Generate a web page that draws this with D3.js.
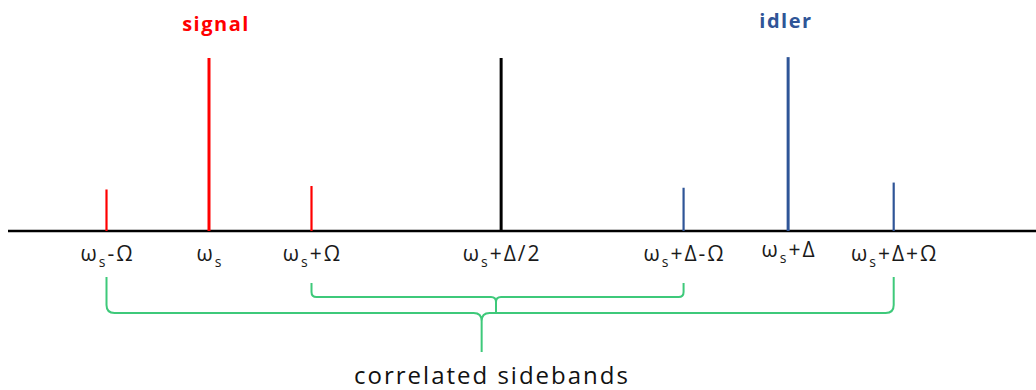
<!DOCTYPE html>
<html>
<head>
<meta charset="utf-8">
<script src="https://cdn.jsdelivr.net/npm/d3@7"></script>
<style>
  html, body { margin: 0; padding: 0; background: #fff; }
  text { font-family: "Open Sans", "Noto Sans", sans-serif; }
</style>
</head>
<body>
<svg width="1036" height="390"></svg>
<script>
// Spectral lines: position in units of Omega from omega_s, relative height
var lineNames = ["ws-O", "ws", "ws+O", "ws+D/2", "ws+D-O", "ws+D", "ws+D+O"];
var linePos = [-1, 0, 1, 2.85, 4.63, 5.65, 6.68];
var lineHeight = [0.24, 1, 0.26, 1, 0.25, 1.005, 0.28];
var lineGroup = ["signal", "signal", "signal", "pump", "idler", "idler", "idler"];

// Tick labels: [main, subscript, rest]
var labelParts = [
  ["ω", "s", "-Ω"],
  ["ω", "s", ""],
  ["ω", "s", "+Ω"],
  ["ω", "s", "+Δ/2"],
  ["ω", "s", "+Δ-Ω"],
  ["ω", "s", "+Δ"],
  ["ω", "s", "+Δ+Ω"]
];

// Braces joining correlated sidebands: [from index, to index, tip position]
var braces = [
  [2, 4, 2.80],
  [0, 6, 2.66]
];

var colors = { signal: "#ff0000", pump: "#000000", idler: "#2f5597" };
var braceColor = "#3ec97a";

var svg = d3.select("svg");
var baseY = 231;

var x = d3.scaleLinear().domain([0, 1]).range([209, 311.5]);
var y = d3.scaleLinear().domain([0, 1]).range([baseY, 58]);

// axis line
svg.append("line")
  .attr("x1", 8).attr("x2", 1036)
  .attr("y1", baseY).attr("y2", baseY)
  .attr("stroke", "#000").attr("stroke-width", 2.5);

// spectral lines
svg.selectAll(".spec")
  .data(linePos)
  .enter()
  .append("line")
  .attr("class", "spec")
  .attr("x1", (d) => x(d)).attr("x2", (d) => x(d))
  .attr("y1", baseY)
  .attr("y2", (d, i) => y(lineHeight[i]))
  .attr("stroke", (d, i) => colors[lineGroup[i]])
  .attr("stroke-width", (d, i) => (lineHeight[i] > 0.5 ? 3 : 2.2));

// frequency labels
var labels = svg.selectAll(".lab")
  .data(labelParts)
  .enter()
  .append("text")
  .attr("class", "lab")
  .attr("x", (d, i) => x(linePos[i]) + 1)
  .attr("y", (d, i) => (i === 5 ? 257 : 261))
  .attr("text-anchor", "middle")
  .attr("font-size", 21)
  .attr("letter-spacing", 2)
  .attr("fill", "#1a1a1a");

labels.append("tspan").text((d) => d[0]);
labels.append("tspan").attr("dy", 6).attr("font-size", 14).text((d) => d[1]);
labels.append("tspan").attr("dy", -6).text((d) => d[2]);

// group titles
svg.append("text")
  .attr("x", 216).attr("y", 31)
  .attr("text-anchor", "middle")
  .attr("font-size", 20).attr("font-weight", "bold")
  .attr("letter-spacing", 1.5)
  .attr("fill", colors.signal)
  .text("signal");

svg.append("text")
  .attr("x", 786).attr("y", 28)
  .attr("text-anchor", "middle")
  .attr("font-size", 20).attr("font-weight", "bold")
  .attr("letter-spacing", 1.5)
  .attr("fill", colors.idler)
  .text("idler");

// braces
var braceGeom = [
  { top: 283, mid: 297, tip: 313, r: 5 },
  { top: 277, mid: 313, tip: 352, r: 8 }
];

braces.forEach(function (b, i) {
  var g = braceGeom[i];
  var x1 = x(linePos[b[0]]), x2 = x(linePos[b[1]]), xm = x(b[2]);
  var p = d3.path();
  p.moveTo(x1, g.top);
  p.lineTo(x1, g.mid - g.r);
  p.quadraticCurveTo(x1, g.mid, x1 + g.r, g.mid);
  p.lineTo(xm - g.r, g.mid);
  p.quadraticCurveTo(xm, g.mid, xm, g.mid + g.r);
  p.lineTo(xm, g.tip);
  p.moveTo(xm, g.mid + g.r);
  p.quadraticCurveTo(xm, g.mid, xm + g.r, g.mid);
  p.lineTo(x2 - g.r, g.mid);
  p.quadraticCurveTo(x2, g.mid, x2, g.mid - g.r);
  p.lineTo(x2, g.top);
  svg.append("path")
    .attr("d", p.toString())
    .attr("fill", "none")
    .attr("stroke", braceColor)
    .attr("stroke-width", 2);
});

svg.append("text")
  .attr("x", 492).attr("y", 384)
  .attr("text-anchor", "middle")
  .attr("font-size", 24)
  .attr("letter-spacing", 2)
  .attr("fill", "#111")
  .text("correlated sidebands");
</script>
</body>
</html>
